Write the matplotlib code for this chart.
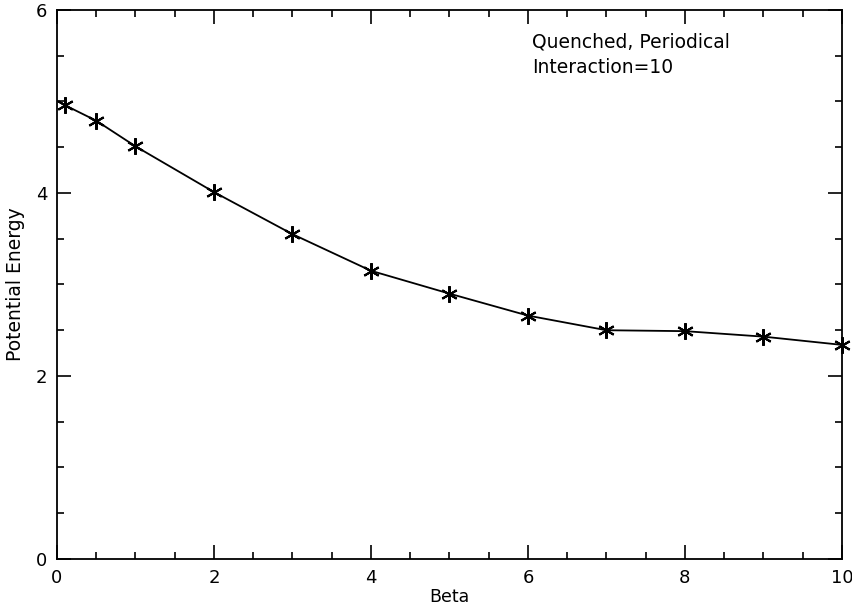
import matplotlib
matplotlib.use("Agg")
import matplotlib.pyplot as plt
from matplotlib.ticker import MultipleLocator

# values
beta = [0.1, 0.5, 1, 2, 3, 4, 5, 6, 7, 8, 9, 10]
energy = [4.96, 4.79, 4.51, 4.01, 3.55, 3.15, 2.90, 2.66, 2.50, 2.49, 2.43, 2.34]
note_lines = ["Quenched, Periodical", "Interaction=10"]

plt.rcParams['font.family'] = ['DejaVu Sans']

fig = plt.figure(figsize=(8.53, 6.08), dpi=100)
ax = fig.add_axes([0.0668, 0.0806, 0.9202, 0.903])

ax.plot(beta, energy, color='black', lw=1.3, marker=(6, 2, 0), ms=12,
        mew=1.5, mec='black', clip_on=False, zorder=3)

ax.set_xlim(0, 10)
ax.set_ylim(0, 6)
ax.xaxis.set_major_locator(MultipleLocator(2))
ax.xaxis.set_minor_locator(MultipleLocator(0.5))
ax.yaxis.set_major_locator(MultipleLocator(2))
ax.yaxis.set_minor_locator(MultipleLocator(0.5))
ax.tick_params(which='both', direction='in', top=True, right=True,
               labelsize=13, width=1.2, pad=7)
ax.tick_params(which='major', length=10)
ax.tick_params(which='minor', length=5)
for sp in ax.spines.values():
    sp.set_linewidth(1.3)

ax.set_xlabel("Beta", fontsize=12.5, labelpad=1)
ax.set_ylabel("Potential Energy", fontsize=13.5, labelpad=8)

ax.text(6.05, 5.65, note_lines[0], fontsize=13.5, va='center', ha='left')
ax.text(6.05, 5.37, note_lines[1], fontsize=13.5, va='center', ha='left')

fig.savefig("out.png", dpi=100)
